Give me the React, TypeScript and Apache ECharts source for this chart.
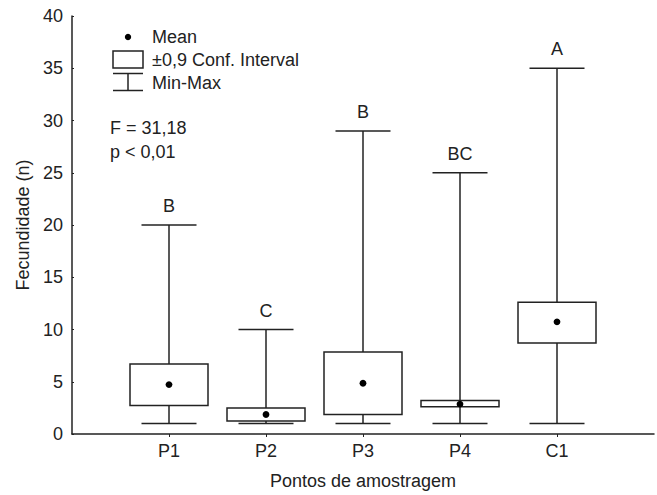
import React, { useEffect, useRef } from "react";
import * as echarts from "echarts";

const categories = ["", "P1", "P2", "P3", "P4", "C1", ""];
const minValues = [1, 1, 1, 1, 1];
const lowerCI = [2.73, 1.24, 1.87, 2.6, 8.7];
const means = [4.73, 1.87, 4.86, 2.86, 10.73];
const upperCI = [6.7, 2.48, 7.84, 3.2, 12.6];
const maxValues = [20, 10, 29, 25, 35];
const groupLetters = ["B", "C", "B", "BC", "A"];
const yTicks = { min: 0, max: 40, interval: 5 };

const FONT = "'Liberation Sans', Arial, sans-serif";
const INK = "#222";
const FS = 18;

export default function App() {
  const ref = useRef<HTMLDivElement>(null);
  useEffect(() => {
    if (!ref.current) return;
    const chart = echarts.init(ref.current, null, { renderer: "svg" });
    const data = categories
      .slice(1, 6)
      .map((c, i) => [c, minValues[i], lowerCI[i], means[i], upperCI[i], maxValues[i]]);
    const BOX_W = 78;
    const CAP_W = 55;
    const lineStyle = { stroke: INK, lineWidth: 1.5, fill: "none" };
    const txt = (x: number, y: number, text: string) => ({
      type: "text",
      x,
      y,
      style: { text, fontSize: FS, fontFamily: FONT, fill: INK, verticalAlign: "middle" },
    });
    chart.setOption({
      animation: false,
      backgroundColor: "#fff",
      textStyle: { fontFamily: FONT },
      grid: { left: 72, top: 16, width: 594, height: 420 },
      xAxis: {
        type: "category",
        data: categories,
        boundaryGap: false,
        name: "Pontos de amostragem",
        nameLocation: "middle",
        nameGap: 38,
        nameTextStyle: { fontSize: FS, color: INK, fontFamily: FONT },
        axisLine: { lineStyle: { color: INK, width: 1.5 } },
        axisTick: {
          length: 3,
          lineStyle: { color: INK },
          interval: (i: number, v: string) => v !== "",
        },
        axisLabel: {
          fontSize: FS,
          color: INK,
          margin: 8,
          fontFamily: FONT,
          interval: 0,
        },
        splitLine: { show: false },
      },
      yAxis: {
        type: "value",
        min: yTicks.min,
        max: yTicks.max,
        interval: yTicks.interval,
        name: "Fecundidade (n)",
        nameLocation: "middle",
        nameGap: 40,
        nameTextStyle: { fontSize: FS, color: INK, fontFamily: FONT },
        axisLine: { show: true, lineStyle: { color: INK, width: 1.5 } },
        axisTick: { show: true, inside: true, length: 2, lineStyle: { color: INK } },
        axisLabel: { fontSize: FS, color: INK, margin: 9, fontFamily: FONT },
        splitLine: { show: false },
      },
      series: [
        {
          type: "custom",
          data,
          encode: { x: 0, y: [1, 2, 3, 4, 5] },
          clip: false,
          renderItem: (params: any, api: any) => {
            const x = api.value(0);
            const pMin = api.coord([x, api.value(1)]);
            const pLo = api.coord([x, api.value(2)]);
            const pMean = api.coord([x, api.value(3)]);
            const pHi = api.coord([x, api.value(4)]);
            const pMax = api.coord([x, api.value(5)]);
            const cx = pMean[0];
            return {
              type: "group",
              children: [
                { type: "line", shape: { x1: cx, y1: pMax[1], x2: cx, y2: pHi[1] }, style: lineStyle },
                { type: "line", shape: { x1: cx, y1: pLo[1], x2: cx, y2: pMin[1] }, style: lineStyle },
                { type: "line", shape: { x1: cx - CAP_W / 2, y1: pMax[1], x2: cx + CAP_W / 2, y2: pMax[1] }, style: lineStyle },
                { type: "line", shape: { x1: cx - CAP_W / 2, y1: pMin[1], x2: cx + CAP_W / 2, y2: pMin[1] }, style: lineStyle },
                {
                  type: "rect",
                  shape: { x: cx - BOX_W / 2, y: pHi[1], width: BOX_W, height: pLo[1] - pHi[1] },
                  style: { stroke: INK, lineWidth: 1.5, fill: "#fff" },
                },
                { type: "circle", shape: { cx, cy: pMean[1], r: 3.4 }, style: { fill: "#000" } },
                {
                  type: "text",
                  x: cx,
                  y: pMax[1] - 19,
                  style: {
                    text: groupLetters[params.dataIndex],
                    fontSize: FS,
                    fontFamily: FONT,
                    fill: INK,
                    align: "center",
                    verticalAlign: "middle",
                  },
                },
              ],
            };
          },
        },
      ],
      graphic: [
        { type: "circle", shape: { cx: 128, cy: 37, r: 3.2 }, style: { fill: "#000" } },
        txt(152, 37, "Mean"),
        { type: "rect", shape: { x: 113, y: 51, width: 30, height: 17 }, style: { stroke: INK, lineWidth: 1.5, fill: "#fff" } },
        txt(152, 60, "±0,9 Conf. Interval"),
        { type: "line", shape: { x1: 113, y1: 73.5, x2: 143, y2: 73.5 }, style: lineStyle },
        { type: "line", shape: { x1: 113, y1: 90.5, x2: 143, y2: 90.5 }, style: lineStyle },
        { type: "line", shape: { x1: 128, y1: 73.5, x2: 128, y2: 90.5 }, style: lineStyle },
        txt(152, 83, "Min-Max"),
        txt(110, 128, "F = 31,18"),
        txt(110, 152, "p < 0,01"),
      ],
    });
    return () => chart.dispose();
  }, []);
  return (
    <div
      ref={ref}
      style={{ position: "fixed", left: 0, top: 0, width: 657, height: 495 }}
    />
  );
}
